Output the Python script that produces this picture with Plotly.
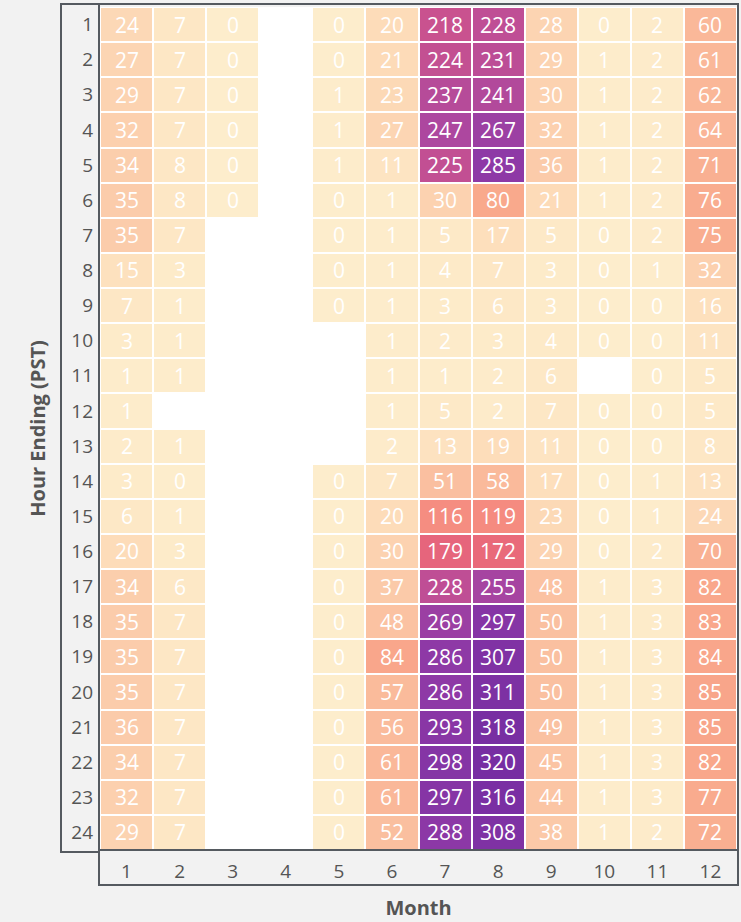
import plotly.graph_objects as go

# Hour-ending rows (PST) and month columns
hours = list(range(1, 25))
months = list(range(1, 13))

# Counts per hour for each month (None = no data)
m1 = [24, 27, 29, 32, 34, 35, 35, 15, 7, 3, 1, 1, 2, 3, 6, 20, 34, 35, 35, 35, 36, 34, 32, 29]
m2 = [7, 7, 7, 7, 8, 8, 7, 3, 1, 1, 1, None, 1, 0, 1, 3, 6, 7, 7, 7, 7, 7, 7, 7]
m3 = [0, 0, 0, 0, 0, 0] + [None] * 18
m4 = [None] * 24
m5 = [0, 0, 1, 1, 1, 0, 0, 0, 0, None, None, None, None, 0, 0, 0, 0, 0, 0, 0, 0, 0, 0, 0]
m6 = [20, 21, 23, 27, 11, 1, 1, 1, 1, 1, 1, 1, 2, 7, 20, 30, 37, 48, 84, 57, 56, 61, 61, 52]
m7 = [218, 224, 237, 247, 225, 30, 5, 4, 3, 2, 1, 5, 13, 51, 116, 179, 228, 269, 286, 286, 293, 298, 297, 288]
m8 = [228, 231, 241, 267, 285, 80, 17, 7, 6, 3, 2, 2, 19, 58, 119, 172, 255, 297, 307, 311, 318, 320, 316, 308]
m9 = [28, 29, 30, 32, 36, 21, 5, 3, 3, 4, 6, 7, 11, 17, 23, 29, 48, 50, 50, 50, 49, 45, 44, 38]
m10 = [0, 1, 1, 1, 1, 1, 0, 0, 0, 0, None, 0, 0, 0, 0, 0, 1, 1, 1, 1, 1, 1, 1, 1]
m11 = [2, 2, 2, 2, 2, 2, 2, 1, 0, 0, 0, 0, 0, 1, 1, 2, 3, 3, 3, 3, 3, 3, 3, 2]
m12 = [60, 61, 62, 64, 71, 76, 75, 32, 16, 11, 5, 5, 8, 13, 24, 70, 82, 83, 84, 85, 85, 82, 77, 72]

columns = [m1, m2, m3, m4, m5, m6, m7, m8, m9, m10, m11, m12]
z = [[columns[m][h] for m in range(12)] for h in range(24)]

colorscale = [
    [0.00, "#fdedcc"],
    [0.05, "#fde0bd"],
    [0.12, "#fbc9a8"],
    [0.25, "#f9a98c"],
    [0.37, "#f58b80"],
    [0.55, "#e8677a"],
    [0.68, "#c9528f"],
    [0.78, "#aa46a0"],
    [0.90, "#8c38a6"],
    [1.00, "#772ea2"],
]

fig = go.Figure(
    go.Heatmap(
        x=months,
        y=hours,
        z=z,
        zmin=0,
        zmax=320,
        colorscale=colorscale,
        showscale=False,
        xgap=2,
        ygap=2,
        hoverongaps=False,
    )
)

# value labels inside each cell that has data
for mi, col in enumerate(columns):
    for hi, val in enumerate(col):
        if val is None:
            continue
        fig.add_annotation(
            x=months[mi], y=hours[hi], text=str(val), showarrow=False,
            font=dict(color="white", size=21, family="Open Sans"),
        )

frame = "#555a60"
L, R, T, B = 100, 737, 7, 850  # plot area in pixels
W, H = R - L, B - T


def px(x):
    return (x - L) / W


def py(y):
    return (B - y) / H


shapes = [
    # outer frame around grid and month ticks
    dict(type="rect", x0=px(99), x1=px(738), y0=py(885), y1=py(4)),
    # hour tick label box
    dict(type="rect", x0=px(61), x1=px(99), y0=py(852), y1=py(4)),
    # separator between grid and month ticks
    dict(type="line", x0=px(99), x1=px(738), y0=py(850), y1=py(850)),
]
for s in shapes:
    s.update(xref="paper", yref="paper", line=dict(color=frame, width=2), layer="above")

fig.update_layout(
    width=741,
    height=922,
    margin=dict(l=L, r=741 - R, t=T, b=922 - B),
    paper_bgcolor="#f2f2f2",
    plot_bgcolor="white",
    shapes=shapes,
    font=dict(family="Open Sans", color="#555555"),
    xaxis=dict(
        tickmode="array",
        tickvals=months,
        ticktext=[str(m) for m in months],
        tickfont=dict(size=19, color="#555555"),
        showgrid=False,
        zeroline=False,
        ticks="",
        ticklabelstandoff=8,
        title=dict(text="<b>Month</b>", font=dict(size=20, color="#555555"), standoff=17),
    ),
    yaxis=dict(
        tickmode="array",
        tickvals=hours,
        ticktext=[str(h) for h in hours],
        autorange="reversed",
        tickfont=dict(size=19, color="#555555"),
        showgrid=False,
        zeroline=False,
        ticks="",
        ticklabelstandoff=6,
        title=dict(text="<b>Hour Ending (PST)</b>", font=dict(size=20, color="#555555"), standoff=20),
    ),
)

fig.write_html("out.html")
